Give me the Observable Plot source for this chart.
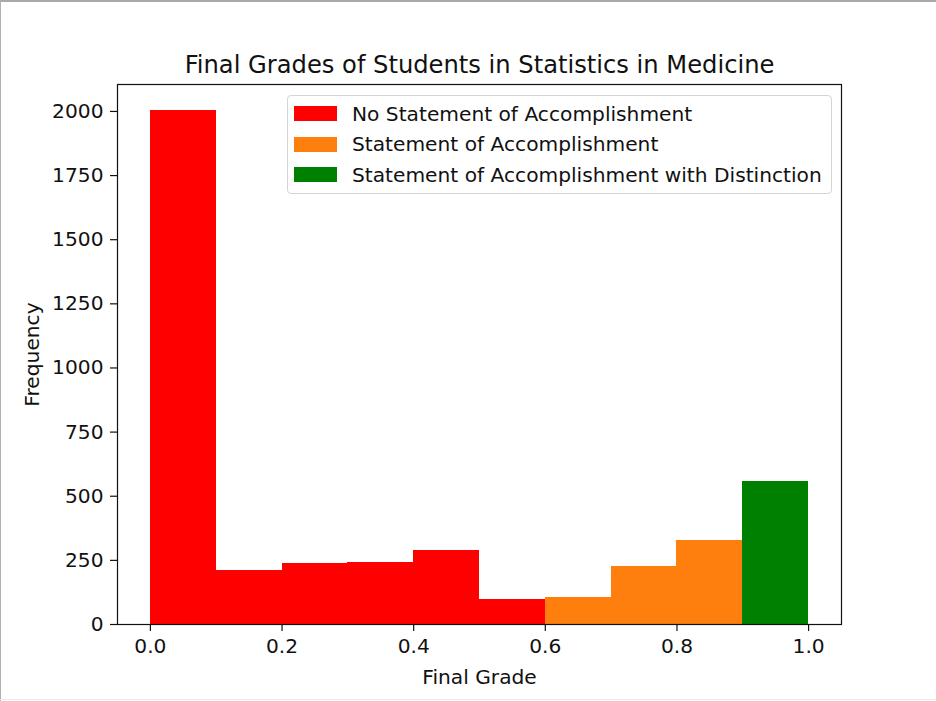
<!DOCTYPE html>
<html>
<head>
<meta charset="utf-8">
<script src="https://cdn.jsdelivr.net/npm/d3@7"></script>
<script src="https://cdn.jsdelivr.net/npm/@observablehq/plot@0.6"></script>
<style>
  body { margin: 0; background: #fff; }
  #wrap { position: relative; width: 936px; height: 701px; overflow: hidden; font-family: "DejaVu Sans", sans-serif; color: #111; }
  #wrap svg { position: absolute; left: 0; top: 0; }
  .legend { position: absolute; left: 287px; top: 95px; width: 545px; height: 99px; box-sizing: border-box;
            border: 1px solid #d4d4d4; border-radius: 4px; background: rgba(255,255,255,0.8); }
  .legend .row { position: absolute; left: 0; height: 30px; display: flex; align-items: center; white-space: nowrap; font-size: 20.2px; }
  .legend .sw { width: 43px; height: 15px; margin-left: 6px; margin-right: 15px; }
  .border-top { position: absolute; left: 0; top: 0; width: 936px; height: 2px; background: #a9a9a9; }
  .border-left { position: absolute; left: 0; top: 0; width: 1px; height: 701px; background: #b2b2aa; }
  .border-bottom { position: absolute; left: 0; top: 699px; width: 936px; height: 1px; background: #ececec; }
</style>
</head>
<body>
<div id="wrap"></div>
<script>
// ---- data ----
const binStarts = [0.0, 0.1, 0.2, 0.3, 0.4, 0.5, 0.6, 0.7, 0.8, 0.9];
const binWidth = 0.1;
const counts = [2005, 211, 237, 241, 289, 97, 106, 226, 328, 559];
const binCategory = [0, 0, 0, 0, 0, 0, 1, 1, 1, 2];
const categories = ["No Statement of Accomplishment", "Statement of Accomplishment", "Statement of Accomplishment with Distinction"];
const colors = ["#ff0000", "#ff7f0e", "#008000"];
const xTicks = [0.0, 0.2, 0.4, 0.6, 0.8, 1.0];
const yTicks = [0, 250, 500, 750, 1000, 1250, 1500, 1750, 2000];
const titleText = "Final Grades of Students in Statistics in Medicine";
const xLabel = "Final Grade";
const yLabel = "Frequency";

const bins = binStarts.map((x0, i) => ({
  x1: x0, x2: x0 + binWidth, count: counts[i], category: categories[binCategory[i]]
}));

const FS = 20.2;
const chart = Plot.plot({
  width: 936, height: 701,
  marginLeft: 117, marginRight: 95, marginTop: 84, marginBottom: 77,
  style: { fontFamily: "DejaVu Sans", fontSize: FS + "px", color: "#111", background: "transparent", overflow: "visible" },
  x: { domain: [-0.05, 1.05], label: null },
  y: { domain: [0, 2105], label: null },
  color: { domain: categories, range: colors },
  marks: [
    Plot.rectY(bins, { x1: "x1", x2: "x2", y: "count", fill: "category", shapeRendering: "crispEdges" }),
    Plot.frame({ stroke: "#111", strokeWidth: 1.2 }),
    Plot.axisX({ ticks: xTicks, tickFormat: d3.format(".1f"), tickSize: 7, tickPadding: 7, strokeWidth: 1.2, fontSize: FS, label: null }),
    Plot.axisY({ ticks: yTicks, tickFormat: d => String(d), tickSize: 7, tickPadding: 7, strokeWidth: 1.2, fontSize: FS, label: null }),
    Plot.text([titleText], { text: d => d, frameAnchor: "top", dy: -19, fontSize: 24.2, lineAnchor: "middle", textAnchor: "middle" }),
    Plot.text([xLabel], { text: d => d, frameAnchor: "bottom", dy: 53, fontSize: FS, lineAnchor: "middle", textAnchor: "middle" }),
    Plot.text([yLabel], { text: d => d, frameAnchor: "left", dx: -84.5, rotate: -90, fontSize: FS, lineAnchor: "middle", textAnchor: "middle" })
  ]
});

const wrap = document.getElementById("wrap");
wrap.appendChild(chart);

// legend
const legend = document.createElement("div");
legend.className = "legend";
categories.forEach((c, i) => {
  const row = document.createElement("div");
  row.className = "row";
  row.style.top = (2.5 + 30.7 * i) + "px";
  const sw = document.createElement("div");
  sw.className = "sw";
  sw.style.background = colors[i];
  const lab = document.createElement("span");
  lab.textContent = c;
  row.appendChild(sw);
  row.appendChild(lab);
  legend.appendChild(row);
});
wrap.appendChild(legend);

["border-top", "border-left", "border-bottom"].forEach(cls => {
  const d = document.createElement("div");
  d.className = cls;
  wrap.appendChild(d);
});
</script>
</body>
</html>
